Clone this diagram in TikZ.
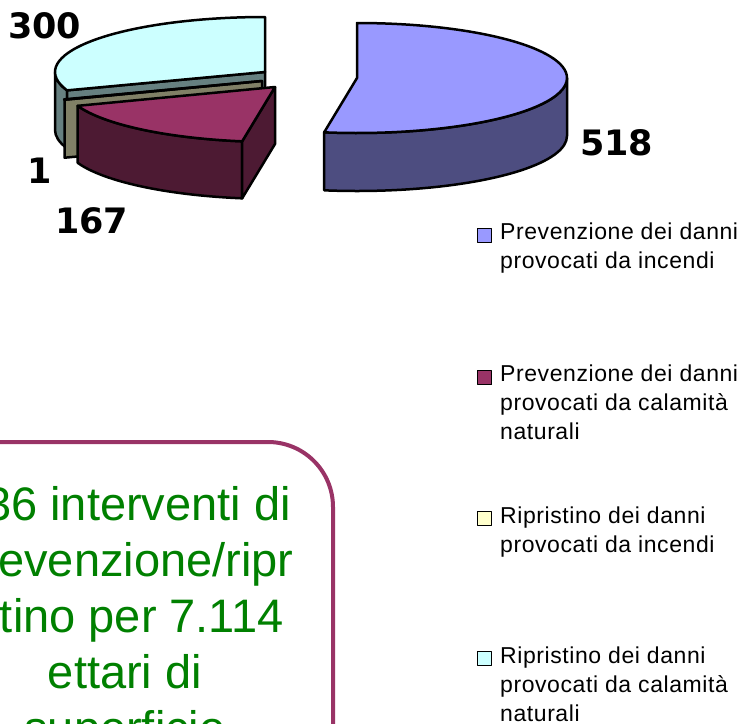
\documentclass[tikz,border=0pt]{standalone}
\usepackage{fontspec}
\setmainfont{Liberation Sans}
\newfontfamily\numfont{DejaVu Sans}
\newfontfamily\legfont{Liberation Sans}[LetterSpace=2.5]

\definecolor{pieblue}{HTML}{9999FF}
\definecolor{pieblueside}{HTML}{4D4D80}
\definecolor{piewine}{HTML}{993366}
\definecolor{piewineside}{HTML}{4D1A33}
\definecolor{pieyellow}{HTML}{FFFFCC}
\definecolor{pieyellowside}{HTML}{808066}
\definecolor{piecyan}{HTML}{CCFFFF}
\definecolor{piecyanside}{HTML}{668080}
\definecolor{notegreen}{HTML}{008000}

\begin{document}
\begin{tikzpicture}[x=1pt, y=1pt, line join=round]
\tikzset{
  rim/.style={x radius=210, y radius=55},
  face/.style={draw=black, line width=2.5pt},
  value/.style={font=\numfont\bfseries\fontsize{35}{40}\selectfont, inner sep=0pt, anchor=base west},
  legtext/.style={font=\legfont\fontsize{23}{29}\selectfont, align=left, inner sep=0pt, anchor=base west},
  legbox/.style={draw=black, line width=1.2pt, minimum size=14pt, inner sep=0pt},
  noteframe/.style={draw=piewine, line width=4pt, rounded corners=65pt},
  notetext/.style={font=\fontsize{47}{56}\selectfont, text=notegreen, align=center, inner sep=0pt, anchor=base}
}
\clip (0,0) rectangle (744,-723);

\coordinate (cc) at (265,-72);
\coordinate (cy) at (262,-81);
\coordinate (cm) at (275,-87);
\coordinate (cb) at (357,-78);

% ripristino, calamita
\filldraw[face, fill=piecyanside] (cc) ++(180:210 and 55) arc[rim, start angle=180, end angle=199.5] -- ++(0,-58) arc[rim, start angle=199.5, end angle=180] -- cycle;
\filldraw[face, fill=piecyanside] (cc) ++(0,-58) -- (cc) -- ++(199.5:210 and 55) -- ++(0,-58) -- cycle;
\filldraw[face, fill=piecyan] (cc) -- ++(0,55) arc[rim, start angle=90, end angle=199.5] -- cycle;

% ripristino, incendi
\filldraw[face, fill=pieyellowside] (cy) ++(0,-58) -- (cy) -- ++(199.9:210 and 55) -- ++(0,-58) -- cycle;
\filldraw[face, fill=pieyellow] (cy) -- ++(199.5:210 and 55) arc[rim, start angle=199.5, end angle=199.9] -- cycle;

% prevenzione, calamita
\filldraw[face, fill=piewineside] (cm) ++(200:210 and 55) arc[rim, start angle=200, end angle=261] -- ++(0,-57) arc[rim, start angle=261, end angle=200] -- cycle;
\filldraw[face, fill=piewineside] (cm) ++(0,-57) -- (cm) -- ++(261:210 and 55) -- ++(0,-57) -- cycle;
\filldraw[face, fill=piewine] (cm) -- ++(200:210 and 55) arc[rim, start angle=200, end angle=261] -- cycle;

% prevenzione, incendi
\filldraw[face, fill=pieblueside] (cb) ++(0:210 and 55) arc[rim, start angle=0, end angle=-99] -- ++(0,-58) arc[rim, start angle=-99, end angle=0] -- cycle;
\filldraw[face, fill=pieblue] (cb) -- ++(0,55) arc[rim, start angle=90, end angle=-99] -- cycle;

\node[value] (v300) at (8,-38) {300};
\node[value] (v518) at (580,-155) {518};
\node[value] (v1) at (27,-183) {1};
\node[value] (v167) at (55,-233) {167};

% legend: base = last line
\node[legbox, fill=pieblue] (k1) at (484.5,-235.5) {};
\node[legtext] (l1) at (500,-268) {Prevenzione dei danni\\provocati da incendi};
\node[legbox, fill=piewine] (k2) at (484.5,-377.5) {};
\node[legtext] (l2) at (500,-439) {Prevenzione dei danni\\provocati da calamità\\naturali};
\node[legbox, fill=pieyellow] (k3) at (484.5,-518.5) {};
\node[legtext] (l3) at (500,-552) {Ripristino dei danni\\provocati da incendi};
\node[legbox, fill=piecyan] (k4) at (484.5,-658.5) {};
\node[legtext] (l4) at (500,-721) {Ripristino dei danni\\provocati da calamità\\naturali};

\draw[noteframe] (-120,-820) rectangle (333,-442);
\node[notetext] (note) at (125,-744) {\phantom{0}36 interventi di\\prevenzione/ripr\\istino per 7.114\\ettari di\\superficie};
\end{tikzpicture}
\end{document}
